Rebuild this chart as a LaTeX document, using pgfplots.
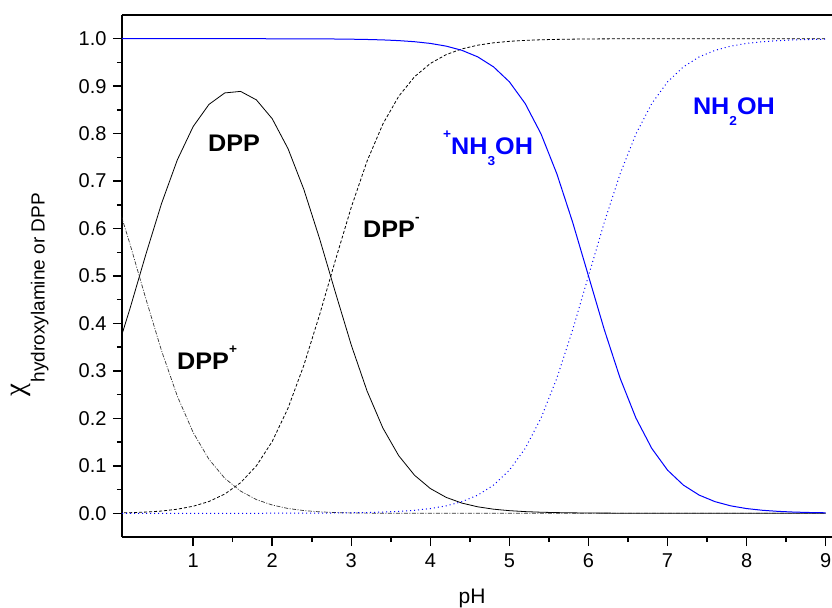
\documentclass[border=0pt]{standalone}
\usepackage{graphicx}
\usepackage{fontspec}
\setmainfont{Liberation Sans}
\newfontfamily\greekserif{Liberation Serif}
\usepackage{pgfplots}
\usepackage{pgfplotstable}
\pgfplotsset{compat=1.18}
\definecolor{pureblue}{RGB}{0,0,255}
\pgfplotstableread{
pH   dppp    dpp     dppm    nh3     nh2
0.0  0.6759  0.3235  0.0006  1.0000  0.0000
0.2  0.5679  0.4308  0.0012  1.0000  0.0000
0.4  0.4529  0.5446  0.0025  1.0000  0.0000
0.6  0.3426  0.6527  0.0047  1.0000  0.0000
0.8  0.2466  0.7448  0.0086  1.0000  0.0000
1.0  0.1703  0.8149  0.0148  1.0000  0.0000
1.2  0.1136  0.8616  0.0248  1.0000  0.0000
1.4  0.0737  0.8858  0.0405  1.0000  0.0000
1.6  0.0467  0.8890  0.0644  1.0000  0.0000
1.8  0.0288  0.8711  0.1000  1.0000  0.0000
2.0  0.0174  0.8314  0.1513  0.9999  0.0001
2.2  0.0101  0.7683  0.2216  0.9998  0.0002
2.4  0.0057  0.6824  0.3119  0.9997  0.0003
2.6  0.0030  0.5781  0.4188  0.9996  0.0004
2.8  0.0015  0.4648  0.5337  0.9994  0.0006
3.0  0.0007  0.3544  0.6449  0.9990  0.0010
3.2  0.0003  0.2574  0.7423  0.9984  0.0016
3.4  0.0001  0.1795  0.8204  0.9975  0.0025
3.6  0.0001  0.1213  0.8787  0.9960  0.0040
3.8  0.0000  0.0801  0.9199  0.9937  0.0063
4.0  0.0000  0.0521  0.9479  0.9901  0.0099
4.2  0.0000  0.0335  0.9665  0.9844  0.0156
4.4  0.0000  0.0214  0.9786  0.9755  0.0245
4.6  0.0000  0.0136  0.9864  0.9617  0.0383
4.8  0.0000  0.0086  0.9914  0.9406  0.0594
5.0  0.0000  0.0055  0.9945  0.9091  0.0909
5.2  0.0000  0.0035  0.9965  0.8632  0.1368
5.4  0.0000  0.0022  0.9978  0.7993  0.2007
5.6  0.0000  0.0014  0.9986  0.7153  0.2847
5.8  0.0000  0.0009  0.9991  0.6131  0.3869
6.0  0.0000  0.0005  0.9995  0.5000  0.5000
6.2  0.0000  0.0003  0.9997  0.3869  0.6131
6.4  0.0000  0.0002  0.9998  0.2847  0.7153
6.6  0.0000  0.0001  0.9999  0.2007  0.7993
6.8  0.0000  0.0001  0.9999  0.1368  0.8632
7.0  0.0000  0.0000  1.0000  0.0909  0.9091
7.2  0.0000  0.0000  1.0000  0.0594  0.9406
7.4  0.0000  0.0000  1.0000  0.0383  0.9617
7.6  0.0000  0.0000  1.0000  0.0245  0.9755
7.8  0.0000  0.0000  1.0000  0.0156  0.9844
8.0  0.0000  0.0000  1.0000  0.0099  0.9901
8.2  0.0000  0.0000  1.0000  0.0063  0.9937
8.4  0.0000  0.0000  1.0000  0.0040  0.9960
8.6  0.0000  0.0000  1.0000  0.0025  0.9975
8.8  0.0000  0.0000  1.0000  0.0016  0.9984
9.0  0.0000  0.0000  1.0000  0.0010  0.9990
}\datatable
\newcommand{\lab}[1]{\scalebox{1.05}[1]{\fontsize{24bp}{28bp}\selectfont\bfseries #1}}
\newcommand{\sps}[1]{\raisebox{16bp}{\fontsize{13bp}{13bp}\selectfont #1}}
\newcommand{\sbs}[1]{\raisebox{-11bp}{\fontsize{13bp}{13bp}\selectfont #1}}
\begin{document}
\begin{tikzpicture}
\begin{axis}[
  at={(0,0)}, anchor=south west,
  scale only axis,
  width=710bp, height=522bp,
  xmin=0.1, xmax=9.08,
  ymin=-0.05, ymax=1.05,
  axis x line=box, axis y line=left,
  every outer y axis line/.append style={-},
  every outer x axis line/.append style={-},
  axis line style={line width=2bp},
  xtick pos=bottom, ytick pos=left,
  tick align=outside,
  xtick={1,2,3,4,5,6,7,8,9},
  ytick={0,0.1,0.2,0.3,0.4,0.5,0.6,0.7,0.8,0.9,1.0},
  minor x tick num=1, minor y tick num=1,
  major tick length=9bp, minor tick length=5bp,
  every tick/.style={line width=1.5bp, black},
  yticklabel style={/pgf/number format/fixed, /pgf/number format/fixed zerofill, /pgf/number format/precision=1, xshift=-3bp},
  /pgf/number format/assume math mode=true,
  tick label style={font=\fontsize{20bp}{24bp}\selectfont},
  xticklabel style={yshift=-4bp},
  xlabel={\fontsize{21bp}{24bp}\selectfont pH},
  xlabel style={at={(axis description cs:0.493,-0.117)}, anchor=center},
  ylabel={{\fontsize{29bp}{32bp}\selectfont\greekserif χ}\,\raisebox{-20bp}{\fontsize{19bp}{22bp}\selectfont hydroxylamine or DPP}},
  ylabel style={at={(axis description cs:-0.1296,0.4636)}, anchor=center},
  clip=true,
]
\addplot[black, line width=0.8bp] table[x=pH, y=dpp] {\datatable};
\addplot[black, line width=0.8bp, dash pattern=on 3bp off 2bp] table[x=pH, y=dppm] {\datatable};
\addplot[black!80, line width=0.7bp, dash pattern=on 4bp off 1.5bp on 1bp off 1.5bp] table[x=pH, y=dppp] {\datatable};
\addplot[pureblue, line width=1bp] table[x=pH, y=nh3] {\datatable};
\addplot[pureblue, line width=1bp, dash pattern=on 1bp off 3bp] table[x=pH, y=nh2] {\datatable};
\node[anchor=base west, inner sep=0] at (axis cs:1.188,0.762) {\lab{DPP}};
\node[anchor=base west, inner sep=0] at (axis cs:0.796,0.304) {\lab{DPP\sps{+}}};
\node[anchor=base west, inner sep=0] at (axis cs:3.148,0.582) {\lab{DPP\sps{-}}};
\node[anchor=base west, inner sep=0, text=pureblue] at (axis cs:4.16,0.755) {\lab{\sps{+}NH\sbs{3}OH}};
\node[anchor=base west, inner sep=0, text=pureblue] at (axis cs:7.32,0.840) {\lab{NH\sbs{2}OH}};
\end{axis}
\pgfresetboundingbox
\path[use as bounding box] (-122bp,-71bp) rectangle (710bp,537bp);
\end{tikzpicture}
\end{document}
